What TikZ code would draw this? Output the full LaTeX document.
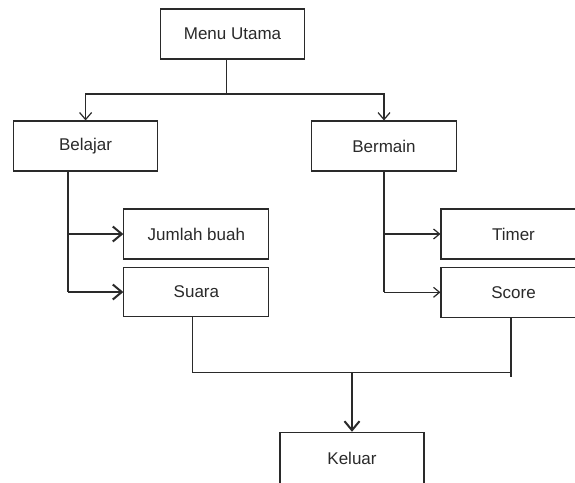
\documentclass[tikz,border=0pt]{standalone}
\usepackage{fontspec}
\setmainfont{Liberation Sans}
\usetikzlibrary{arrows.meta}
\definecolor{ink}{HTML}{2A2A2A}
\tikzset{
  box/.style={draw=ink, line width=1.1pt, rectangle, minimum width=144pt, minimum height=50pt, inner sep=0pt, font=\fontsize{17}{19}\selectfont, text=ink},
  thinline/.style={draw=ink, line width=1.2pt},
  thickline/.style={draw=ink, line width=2pt},
  bigtip/.style={-{Straight Barb[length=9pt,width=15pt]}},
  midtip/.style={-{Straight Barb[length=7pt,width=12pt]}},
  smalltip/.style={-{Straight Barb[length=6pt,width=10pt]}}
}
\begin{document}
\begin{tikzpicture}[x=1pt,y=-1pt]
\useasboundingbox (0,0) rectangle (575,482);
\clip (0,0) rectangle (575,482);
\fill[white] (0,0) rectangle (575,482);

\node[box] (menu) at (232.5,34) {Menu Utama};
\node[box] (belajar) at (85.6,146) {Belajar};
\node[box, minimum width=145pt] (bermain) at (384,146) {Bermain};
\node[box, minimum width=145pt] (jumlah) at (196.4,234) {Jumlah buah};
\node[box, minimum width=145pt, minimum height=49.5pt] (suara) at (196.4,292) {Suara};
\node[box, minimum width=145pt] (timer) at (513.5,234) {Timer};
\node[box, minimum width=145pt, minimum height=49.5pt] (score) at (513.5,292.3) {Score};
\node[box, minimum height=52pt] (keluar) at (352,458.3) {Keluar};

% top
\draw[thinline] ([xshift=-6pt]menu.south) -- ++(0,34) coordinate (hub);
\draw[thickline] (hub) -| ([yshift=-0.1pt]belajar.north |- hub);
\draw[thickline] (hub) -| ([yshift=-0.1pt]bermain.north |- hub);
\draw[thinline, midtip] (belajar.north |- hub) -- (belajar.north);
\draw[thinline, midtip] (bermain.north |- hub) -- (bermain.north);

% left subtree
\coordinate (lb) at ([xshift=-18pt]belajar.south);
\draw[thickline] (lb) -- (lb |- suara.west);
\draw[thickline, bigtip] (lb |- jumlah.west) -- (jumlah.west);
\draw[thickline, bigtip] (lb |- suara.west) -- (suara.west);

% right subtree
\draw[thickline] (bermain.south) -- (bermain.south |- score.west);
\draw[thinline, smalltip] (bermain.south |- timer.west) -- (timer.west);
\draw[thinline, smalltip] (bermain.south |- score.west) -- (score.west);

% bottom
\draw[thinline] ([xshift=-2.5pt]score.south) -- ++(0,59) coordinate (scend);
\draw[thinline] ([xshift=-4pt]suara.south) -- ++(0,55.3) coordinate (jl) -- (jl -| scend);
\draw[thickline, bigtip] (jl -| keluar.north) -- (keluar.north);
\end{tikzpicture}
\end{document}
